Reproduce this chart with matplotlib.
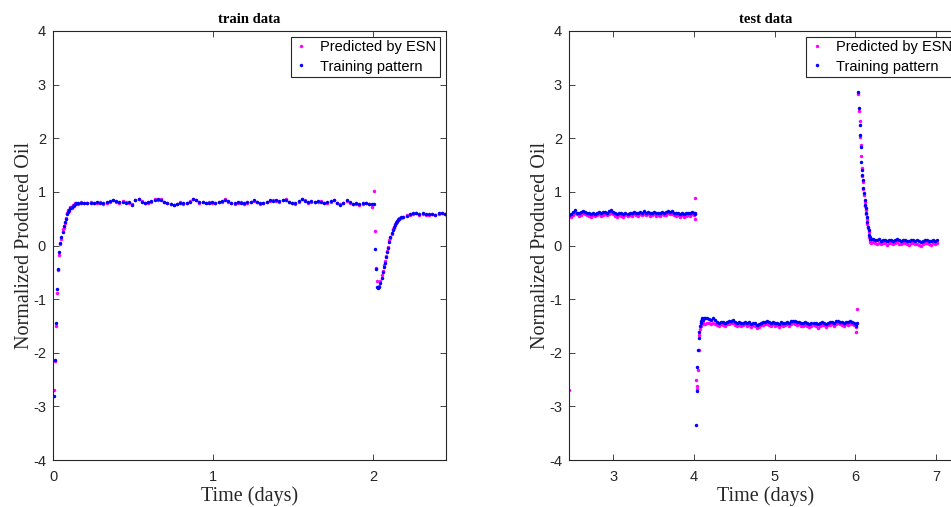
import numpy as np
import matplotlib
matplotlib.use("Agg")
import matplotlib.pyplot as plt
from matplotlib.lines import Line2D

plt.rcParams["axes.unicode_minus"] = False

# ---- train panel data (time in days) ----
train_rise_target = [-2.80, -2.13, -1.45, -0.81, -0.44, -0.13, 0.04, 0.16, 0.25, 0.36,
                     0.44, 0.49, 0.58, 0.63, 0.67, 0.70, 0.71, 0.73, 0.75, 0.77, 0.79]
train_rise_pred = [-2.70, -2.16, -1.51, -0.89, -0.45, -0.17, 0.02, 0.13, 0.30, 0.33,
                   0.42, 0.52, 0.60, 0.66, 0.65, 0.71, 0.69, 0.75, 0.74, 0.79, 0.78]

train_flat_target = [0.79, 0.80, 0.79, 0.80, 0.80, 0.79, 0.81, 0.80, 0.79, 0.81,
                     0.83, 0.84, 0.83, 0.81, 0.82, 0.80, 0.81, 0.75, 0.85, 0.86,
                     0.82, 0.80, 0.81, 0.83, 0.85, 0.86, 0.85, 0.82, 0.80, 0.78,
                     0.75, 0.78, 0.80, 0.79, 0.80, 0.82, 0.87, 0.84, 0.81, 0.82,
                     0.80, 0.80, 0.81, 0.80, 0.82, 0.83, 0.85, 0.83, 0.80, 0.79,
                     0.81, 0.80, 0.79, 0.81, 0.82, 0.84, 0.81, 0.79, 0.80, 0.82,
                     0.84, 0.83, 0.84, 0.83, 0.84, 0.85, 0.82, 0.80, 0.79, 0.83,
                     0.86, 0.83, 0.81, 0.83, 0.82, 0.83, 0.82, 0.80, 0.81, 0.83,
                     0.84, 0.79, 0.76, 0.80, 0.84, 0.81, 0.78, 0.79, 0.77, 0.79,
                     0.80, 0.78, 0.78]
train_flat_pred = [0.78, 0.81, 0.80, 0.79, 0.81, 0.80, 0.80, 0.81, 0.78, 0.80,
                   0.82, 0.85, 0.82, 0.80, 0.83, 0.81, 0.79, 0.77, 0.84, 0.87,
                   0.83, 0.79, 0.80, 0.82, 0.86, 0.85, 0.86, 0.81, 0.79, 0.77,
                   0.76, 0.77, 0.81, 0.78, 0.79, 0.83, 0.86, 0.85, 0.80, 0.81,
                   0.79, 0.81, 0.80, 0.79, 0.81, 0.82, 0.86, 0.82, 0.79, 0.78,
                   0.80, 0.81, 0.78, 0.80, 0.81, 0.83, 0.82, 0.78, 0.79, 0.81,
                   0.83, 0.84, 0.83, 0.82, 0.85, 0.86, 0.81, 0.79, 0.78, 0.82,
                   0.87, 0.84, 0.80, 0.82, 0.81, 0.82, 0.83, 0.79, 0.80, 0.82,
                   0.85, 0.80, 0.77, 0.79, 0.83, 0.80, 0.77, 0.78, 0.76, 0.78,
                   0.79, 0.77, 0.71]

train_dip_target = [0.78, -0.07, -0.43, -0.78, -0.79, -0.77, -0.70, -0.60, -0.49, -0.41,
                    -0.32, -0.22, -0.12, -0.04, 0.07, 0.16, 0.23, 0.28, 0.34, 0.38,
                    0.42, 0.45, 0.48, 0.50, 0.53]
train_dip_pred = [1.02, 0.27, -0.42, -0.66, -0.77, -0.75, -0.67, -0.55, -0.47, -0.36,
                  -0.28, -0.20, -0.10, -0.02, 0.10, 0.14, 0.22, 0.30, 0.33, 0.40,
                  0.43, 0.44, 0.49, 0.51, 0.52]

train_end_target = [0.54, 0.55, 0.58, 0.61, 0.60, 0.58, 0.60, 0.58, 0.59, 0.58, 0.57, 0.60, 0.61, 0.58]
train_end_pred = [0.53, 0.56, 0.57, 0.59, 0.61, 0.57, 0.58, 0.56, 0.57, 0.59, 0.56, 0.58, 0.60, 0.59]

# ---- test panel data ----
test_a_target = [0.57, 0.58, 0.62, 0.66, 0.61, 0.60, 0.62, 0.64, 0.63, 0.61,
                 0.60, 0.59, 0.60, 0.59, 0.61, 0.62, 0.61, 0.62, 0.63, 0.61,
                 0.64, 0.66, 0.62, 0.60, 0.59, 0.61, 0.60, 0.58, 0.60, 0.59,
                 0.61, 0.60, 0.62, 0.61, 0.60, 0.62, 0.61, 0.64, 0.61, 0.62,
                 0.60, 0.61, 0.62, 0.60, 0.61, 0.60, 0.63, 0.61, 0.62, 0.64,
                 0.62, 0.64, 0.61, 0.60, 0.61, 0.59, 0.60, 0.58, 0.60, 0.61,
                 0.60, 0.63, 0.61]
test_a_pred = [-2.70, 0.53, 0.57, 0.60, 0.58, 0.55, 0.57, 0.60, 0.58, 0.56,
               0.55, 0.54, 0.56, 0.55, 0.57, 0.58, 0.55, 0.57, 0.58, 0.56,
               0.59, 0.61, 0.58, 0.55, 0.54, 0.56, 0.55, 0.53, 0.56, 0.55,
               0.56, 0.55, 0.58, 0.56, 0.55, 0.58, 0.57, 0.59, 0.56, 0.58,
               0.55, 0.56, 0.58, 0.55, 0.57, 0.55, 0.58, 0.56, 0.57, 0.60,
               0.58, 0.59, 0.56, 0.55, 0.57, 0.54, 0.56, 0.53, 0.55, 0.57,
               0.55, 0.58, 0.56]

test_b_target = [0.60, 0.58, -3.35, -2.71, -2.26, -1.95, -1.73, -1.61, -1.51, -1.45,
                 -1.40, -1.37, -1.36, -1.38, -1.36]
test_b_pred = [0.88, 0.49, -2.51, -2.62, -2.68, -2.32, -1.95, -1.67, -1.55, -1.50,
               -1.44, -1.42, -1.45, -1.44, -1.46]

test_c_target = [-1.36, -1.35, -1.37, -1.38, -1.36, -1.39, -1.42, -1.44, -1.42, -1.43,
                 -1.45, -1.42, -1.41, -1.40, -1.39, -1.42, -1.44, -1.43, -1.45, -1.44,
                 -1.42, -1.45, -1.43, -1.46, -1.44, -1.45, -1.48, -1.47, -1.44, -1.43,
                 -1.42, -1.41, -1.43, -1.44, -1.42, -1.45, -1.44, -1.46, -1.43, -1.45,
                 -1.44, -1.42, -1.44, -1.41, -1.40, -1.41, -1.43, -1.42, -1.44, -1.45,
                 -1.43, -1.44, -1.46, -1.45, -1.44, -1.45, -1.47, -1.45, -1.43, -1.44,
                 -1.46, -1.44, -1.43, -1.42, -1.44, -1.41, -1.40, -1.42, -1.43, -1.44,
                 -1.42, -1.43, -1.41, -1.42, -1.44, -1.47]
test_c_pred = [-1.46, -1.44, -1.45, -1.47, -1.44, -1.46, -1.48, -1.50, -1.47, -1.49,
               -1.51, -1.47, -1.46, -1.45, -1.44, -1.48, -1.50, -1.48, -1.51, -1.49,
               -1.47, -1.50, -1.48, -1.52, -1.49, -1.51, -1.53, -1.52, -1.49, -1.48,
               -1.47, -1.46, -1.49, -1.50, -1.47, -1.51, -1.49, -1.52, -1.48, -1.50,
               -1.49, -1.47, -1.50, -1.46, -1.45, -1.47, -1.49, -1.47, -1.50, -1.51,
               -1.48, -1.50, -1.52, -1.50, -1.49, -1.51, -1.53, -1.50, -1.48, -1.49,
               -1.52, -1.49, -1.48, -1.47, -1.50, -1.46, -1.45, -1.47, -1.49, -1.50,
               -1.47, -1.48, -1.46, -1.47, -1.49, -1.52]

test_d_target = [-1.50, -1.45, 2.86, 2.57, 2.24, 2.06, 1.83, 1.56, 1.41, 1.32, 1.22, 1.07,
                 0.97, 0.85, 0.76, 0.69, 0.60, 0.54, 0.44, 0.35, 0.29, 0.20, 0.16, 0.13, 0.12]
test_d_pred = [-1.61, -1.19, 2.83, 2.51, 2.32, 2.02, 1.88, 1.67, 1.45, 1.30, 1.18, 1.05,
               0.95, 0.82, 0.74, 0.66, 0.58, 0.50, 0.40, 0.32, 0.25, 0.16, 0.11, 0.07, 0.05]

test_e_target = [0.12, 0.11, 0.10, 0.12, 0.09, 0.11, 0.10, 0.08, 0.10, 0.11,
                 0.09, 0.10, 0.12, 0.10, 0.09, 0.11, 0.10, 0.09, 0.08, 0.10,
                 0.11, 0.09, 0.10, 0.08, 0.07, 0.09, 0.10, 0.11, 0.09, 0.08,
                 0.10, 0.09, 0.10]
test_e_pred = [0.06, 0.04, 0.03, 0.05, 0.02, 0.05, 0.04, 0.01, 0.04, 0.05,
               0.03, 0.04, 0.06, 0.03, 0.02, 0.05, 0.04, 0.02, 0.01, 0.04,
               0.05, 0.02, 0.03, 0.01, 0.00, 0.02, 0.04, 0.05, 0.03, 0.01,
               0.04, 0.03, 0.04]


def grid(t0, step, vals):
    # sample times of a segment
    return t0 + step * np.arange(len(vals))


# (start time, step, target, prediction) per segment
train_segs = [(0.004, 0.007, train_rise_target, train_rise_pred),
              (0.155, 0.02, train_flat_target, train_flat_pred),
              (2.004, 0.007, train_dip_target, train_dip_pred),
              (2.19, 0.02, train_end_target, train_end_pred)]
test_segs = [(2.45, 0.025, test_a_target, test_a_pred),
             (4.008, 0.008, test_b_target, test_b_pred),
             (4.13, 0.025, test_c_target, test_c_pred),
             (6.012, 0.008, test_d_target[:2], test_d_pred[:2]),
             (6.036, 0.007, test_d_target[2:], test_d_pred[2:]),
             (6.215, 0.025, test_e_target, test_e_pred)]


def join(segs):
    t = np.concatenate([grid(s[0], s[1], s[2]) for s in segs])
    y = np.concatenate([s[2] for s in segs])
    p = np.concatenate([s[3] for s in segs])
    return t, y, p


SANS = "Liberation Sans"
SERIF = "Liberation Serif"
AX_COL = "#262626"
MS = 2.5

fig = plt.figure(figsize=(9.51, 5.07), dpi=100)
ax1 = fig.add_axes([53 / 951, 47 / 507, 393 / 951, 429 / 507])
ax2 = fig.add_axes([569 / 951, 47 / 507, 393 / 951, 429 / 507])

panels = [(ax1, train_segs, "train data", (0, 2.456), [0, 1, 2]),
          (ax2, test_segs, "test data", (2.45, 7.32), [3, 4, 5, 6, 7])]

for ax, segs, title, xlim, xticks in panels:
    t, y, p = join(segs)
    ax.plot(t, p, "o", color="#ff00ff", ms=MS, mew=0)
    ax.plot(t, y, "o", color="#0000ff", ms=MS, mew=0)
    ax.set_xlim(*xlim)
    ax.set_ylim(-4, 4)
    ax.set_xticks(xticks)
    ax.set_yticks(range(-4, 5))
    ax.tick_params(direction="in", length=4, width=0.6, top=True, right=True,
                   colors=AX_COL, labelsize=10.5)
    ax.tick_params(axis="x", pad=7)
    ax.tick_params(axis="y", pad=5)
    for lab in ax.get_xticklabels() + ax.get_yticklabels():
        lab.set_fontfamily(SANS)
    for sp in ax.spines.values():
        sp.set_color(AX_COL)
        sp.set_linewidth(0.8)
    ax.set_title(title, fontfamily=SERIF, fontweight="bold", fontsize=10.5, pad=6)
    ax.set_xlabel("Time (days)", fontfamily=SERIF, fontsize=14.5, labelpad=2, color=AX_COL)
    ax.set_ylabel("Normalized Produced Oil", fontfamily=SERIF, fontsize=14.5, labelpad=-1,
                  color=AX_COL)
    handles = [Line2D([], [], ls="none", marker="o", ms=MS, mew=0, color="#ff00ff"),
               Line2D([], [], ls="none", marker="o", ms=MS, mew=0, color="#0000ff")]
    leg = ax.legend(handles, ["Predicted by ESN", "Training pattern"], loc="upper right",
                    prop={"family": SANS, "size": 10.5}, fancybox=False, framealpha=1,
                    edgecolor=AX_COL, handlelength=1.0, handletextpad=0.8,
                    borderpad=0.25, labelspacing=0.35, borderaxespad=0.4)
    leg.get_frame().set_linewidth(0.8)

fig.savefig("out.png", dpi=100)
